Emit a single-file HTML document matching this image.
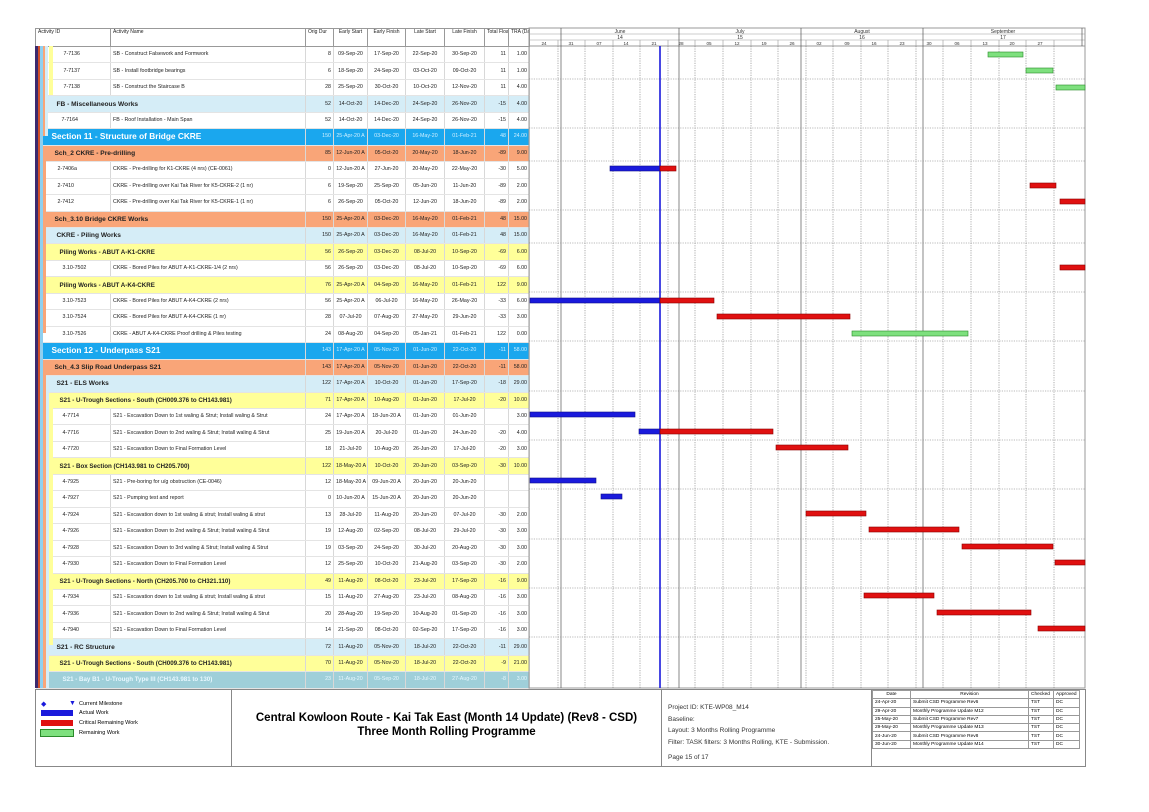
<!DOCTYPE html>
<html><head><meta charset="utf-8"><style>
body{margin:0;background:#fff;width:1149px;height:812px;position:relative;overflow:hidden;font-family:"Liberation Sans",sans-serif}
#tbl{position:absolute;left:35px;top:28px;width:494px;border-collapse:collapse;table-layout:fixed}
#tbl td{border-right:1px solid #d8d8d8;border-bottom:1px solid #e4e4e4;font-size:5.3px;white-space:nowrap;overflow:hidden;padding:0 2px;height:15.46px;line-height:15px;color:#222}
#tbl tr.h td{height:17px;font-size:5px;vertical-align:top;line-height:7px;border:1px solid #999;background:#fff}
#tbl td.n{text-align:right}#tbl td.c{text-align:center}
tr.s td{background:#1aa7ee;color:#cfefff!important}tr.s td.g{color:#fff!important;font-weight:bold;font-size:8.3px!important}
tr.o td{background:#f9a578}tr.o td.g{font-weight:bold;font-size:6.6px!important;color:#000}
tr.l td{background:#d5edf7}tr.l td.g{font-weight:bold;font-size:6.6px!important;color:#000}
tr.y td{background:#ffff99}tr.y td.g{font-weight:bold;font-size:6.2px!important;color:#000}
tr.t td{background:#9fcfd9;color:#e8f8ff!important}tr.t td.g{font-weight:bold;font-size:6.2px!important}
.strip{position:absolute;top:46px;height:642px}
#foot{position:absolute;left:35px;top:689px;width:1049px;height:76px;border:1px solid #888;font-size:5.5px}
#foot div{position:absolute}
.rv{position:absolute;left:836px;top:0;border-collapse:collapse;font-size:4.8px}
.rv td{border:1px solid #999;height:7.3px;padding:0 2px;line-height:7px}
</style></head><body>
<table id="tbl">
<colgroup><col style="width:75px"><col style="width:195px"><col style="width:28px"><col style="width:34px"><col style="width:38px"><col style="width:39px"><col style="width:40px"><col style="width:24px"><col style="width:21px"></colgroup>
<tr class="h"><td>Activity ID</td><td>Activity Name</td><td>Orig Dur</td><td class="c">Early Start</td><td class="c">Early Finish</td><td class="c">Late Start</td><td class="c">Late Finish</td><td class="c">Total Float</td><td class="c">TRA (Day)</td></tr>
<tr><td style="padding-left:28px">7-7136</td><td>SB - Construct Falsework and Formwork</td><td class="n">8</td><td class="c">09-Sep-20</td><td class="c">17-Sep-20</td><td class="c">22-Sep-20</td><td class="c">30-Sep-20</td><td class="n">11</td><td class="n">1.00</td></tr>
<tr><td style="padding-left:28px">7-7137</td><td>SB - Install footbridge bearings</td><td class="n">6</td><td class="c">18-Sep-20</td><td class="c">24-Sep-20</td><td class="c">03-Oct-20</td><td class="c">09-Oct-20</td><td class="n">11</td><td class="n">1.00</td></tr>
<tr><td style="padding-left:28px">7-7138</td><td>SB - Construct the Staircase B</td><td class="n">28</td><td class="c">25-Sep-20</td><td class="c">30-Oct-20</td><td class="c">10-Oct-20</td><td class="c">12-Nov-20</td><td class="n">11</td><td class="n">4.00</td></tr>
<tr class="l"><td class="g" colspan="2" style="padding-left:21px">FB - Miscellaneous Works</td><td class="n">52</td><td class="c">14-Oct-20</td><td class="c">14-Dec-20</td><td class="c">24-Sep-20</td><td class="c">26-Nov-20</td><td class="n">-15</td><td class="n">4.00</td></tr>
<tr><td style="padding-left:26px">7-7164</td><td>FB - Roof Installation - Main Span</td><td class="n">52</td><td class="c">14-Oct-20</td><td class="c">14-Dec-20</td><td class="c">24-Sep-20</td><td class="c">26-Nov-20</td><td class="n">-15</td><td class="n">4.00</td></tr>
<tr class="s"><td class="g" colspan="2" style="padding-left:16px">Section 11 - Structure of Bridge CKRE</td><td class="n">150</td><td class="c">25-Apr-20 A</td><td class="c">03-Dec-20</td><td class="c">16-May-20</td><td class="c">01-Feb-21</td><td class="n">48</td><td class="n">24.00</td></tr>
<tr class="o"><td class="g" colspan="2" style="padding-left:19px">Sch_2 CKRE - Pre-drilling</td><td class="n">85</td><td class="c">12-Jun-20 A</td><td class="c">05-Oct-20</td><td class="c">20-May-20</td><td class="c">18-Jun-20</td><td class="n">-89</td><td class="n">9.00</td></tr>
<tr><td style="padding-left:22px">2-7406a</td><td>CKRE - Pre-drilling for K1-CKRE (4 nrs) (CE-0061)</td><td class="n">0</td><td class="c">12-Jun-20 A</td><td class="c">27-Jun-20</td><td class="c">20-May-20</td><td class="c">22-May-20</td><td class="n">-30</td><td class="n">5.00</td></tr>
<tr><td style="padding-left:22px">2-7410</td><td>CKRE - Pre-drilling over Kai Tak River for K5-CKRE-2 (1 nr)</td><td class="n">6</td><td class="c">19-Sep-20</td><td class="c">25-Sep-20</td><td class="c">05-Jun-20</td><td class="c">11-Jun-20</td><td class="n">-89</td><td class="n">2.00</td></tr>
<tr><td style="padding-left:22px">2-7412</td><td>CKRE - Pre-drilling over Kai Tak River for K5-CKRE-1 (1 nr)</td><td class="n">6</td><td class="c">26-Sep-20</td><td class="c">05-Oct-20</td><td class="c">12-Jun-20</td><td class="c">18-Jun-20</td><td class="n">-89</td><td class="n">2.00</td></tr>
<tr class="o"><td class="g" colspan="2" style="padding-left:19px">Sch_3.10 Bridge CKRE Works</td><td class="n">150</td><td class="c">25-Apr-20 A</td><td class="c">03-Dec-20</td><td class="c">16-May-20</td><td class="c">01-Feb-21</td><td class="n">48</td><td class="n">15.00</td></tr>
<tr class="l"><td class="g" colspan="2" style="padding-left:21px">CKRE - Piling Works</td><td class="n">150</td><td class="c">25-Apr-20 A</td><td class="c">03-Dec-20</td><td class="c">16-May-20</td><td class="c">01-Feb-21</td><td class="n">48</td><td class="n">15.00</td></tr>
<tr class="y"><td class="g" colspan="2" style="padding-left:24px">Piling Works - ABUT A-K1-CKRE</td><td class="n">56</td><td class="c">26-Sep-20</td><td class="c">03-Dec-20</td><td class="c">08-Jul-20</td><td class="c">10-Sep-20</td><td class="n">-69</td><td class="n">6.00</td></tr>
<tr><td style="padding-left:27px">3.10-7502</td><td>CKRE - Bored Piles for ABUT A-K1-CKRE-1/4 (2 nrs)</td><td class="n">56</td><td class="c">26-Sep-20</td><td class="c">03-Dec-20</td><td class="c">08-Jul-20</td><td class="c">10-Sep-20</td><td class="n">-69</td><td class="n">6.00</td></tr>
<tr class="y"><td class="g" colspan="2" style="padding-left:24px">Piling Works - ABUT A-K4-CKRE</td><td class="n">76</td><td class="c">25-Apr-20 A</td><td class="c">04-Sep-20</td><td class="c">16-May-20</td><td class="c">01-Feb-21</td><td class="n">122</td><td class="n">9.00</td></tr>
<tr><td style="padding-left:27px">3.10-7523</td><td>CKRE - Bored Piles for ABUT A-K4-CKRE (2 nrs)</td><td class="n">56</td><td class="c">25-Apr-20 A</td><td class="c">06-Jul-20</td><td class="c">16-May-20</td><td class="c">26-May-20</td><td class="n">-33</td><td class="n">6.00</td></tr>
<tr><td style="padding-left:27px">3.10-7524</td><td>CKRE - Bored Piles for ABUT A-K4-CKRE (1 nr)</td><td class="n">28</td><td class="c">07-Jul-20</td><td class="c">07-Aug-20</td><td class="c">27-May-20</td><td class="c">29-Jun-20</td><td class="n">-33</td><td class="n">3.00</td></tr>
<tr><td style="padding-left:27px">3.10-7526</td><td>CKRE - ABUT A-K4-CKRE Proof drilling &amp; Piles testing</td><td class="n">24</td><td class="c">08-Aug-20</td><td class="c">04-Sep-20</td><td class="c">05-Jan-21</td><td class="c">01-Feb-21</td><td class="n">122</td><td class="n">0.00</td></tr>
<tr class="s"><td class="g" colspan="2" style="padding-left:16px">Section 12 - Underpass S21</td><td class="n">143</td><td class="c">17-Apr-20 A</td><td class="c">05-Nov-20</td><td class="c">01-Jun-20</td><td class="c">22-Oct-20</td><td class="n">-11</td><td class="n">58.00</td></tr>
<tr class="o"><td class="g" colspan="2" style="padding-left:19px">Sch_4.3 Slip Road Underpass S21</td><td class="n">143</td><td class="c">17-Apr-20 A</td><td class="c">05-Nov-20</td><td class="c">01-Jun-20</td><td class="c">22-Oct-20</td><td class="n">-11</td><td class="n">58.00</td></tr>
<tr class="l"><td class="g" colspan="2" style="padding-left:21px">S21 - ELS Works</td><td class="n">122</td><td class="c">17-Apr-20 A</td><td class="c">10-Oct-20</td><td class="c">01-Jun-20</td><td class="c">17-Sep-20</td><td class="n">-18</td><td class="n">29.00</td></tr>
<tr class="y"><td class="g" colspan="2" style="padding-left:24px">S21 - U-Trough Sections - South (CH009.376 to CH143.981)</td><td class="n">71</td><td class="c">17-Apr-20 A</td><td class="c">10-Aug-20</td><td class="c">01-Jun-20</td><td class="c">17-Jul-20</td><td class="n">-20</td><td class="n">10.00</td></tr>
<tr><td style="padding-left:27px">4-7714</td><td>S21 - Excavation Down to 1st waling &amp; Strut; Install waling &amp; Strut</td><td class="n">24</td><td class="c">17-Apr-20 A</td><td class="c">18-Jun-20 A</td><td class="c">01-Jun-20</td><td class="c">01-Jun-20</td><td class="n"></td><td class="n">3.00</td></tr>
<tr><td style="padding-left:27px">4-7716</td><td>S21 - Excavation Down to 2nd waling &amp; Strut; Install waling &amp; Strut</td><td class="n">25</td><td class="c">19-Jun-20 A</td><td class="c">20-Jul-20</td><td class="c">01-Jun-20</td><td class="c">24-Jun-20</td><td class="n">-20</td><td class="n">4.00</td></tr>
<tr><td style="padding-left:27px">4-7720</td><td>S21 - Excavation Down to Final Formation Level</td><td class="n">18</td><td class="c">21-Jul-20</td><td class="c">10-Aug-20</td><td class="c">26-Jun-20</td><td class="c">17-Jul-20</td><td class="n">-20</td><td class="n">3.00</td></tr>
<tr class="y"><td class="g" colspan="2" style="padding-left:24px">S21 - Box Section (CH143.981 to CH205.700)</td><td class="n">122</td><td class="c">18-May-20 A</td><td class="c">10-Oct-20</td><td class="c">20-Jun-20</td><td class="c">03-Sep-20</td><td class="n">-30</td><td class="n">10.00</td></tr>
<tr><td style="padding-left:27px">4-7925</td><td>S21 - Pre-boring for u/g obstruction (CE-0046)</td><td class="n">12</td><td class="c">18-May-20 A</td><td class="c">09-Jun-20 A</td><td class="c">20-Jun-20</td><td class="c">20-Jun-20</td><td class="n"></td><td class="n"></td></tr>
<tr><td style="padding-left:27px">4-7927</td><td>S21 - Pumping test and report</td><td class="n">0</td><td class="c">10-Jun-20 A</td><td class="c">15-Jun-20 A</td><td class="c">20-Jun-20</td><td class="c">20-Jun-20</td><td class="n"></td><td class="n"></td></tr>
<tr><td style="padding-left:27px">4-7924</td><td>S21 - Excavation down to 1st waling &amp; strut; Install waling &amp; strut</td><td class="n">13</td><td class="c">28-Jul-20</td><td class="c">11-Aug-20</td><td class="c">20-Jun-20</td><td class="c">07-Jul-20</td><td class="n">-30</td><td class="n">2.00</td></tr>
<tr><td style="padding-left:27px">4-7926</td><td>S21 - Excavation Down to 2nd waling &amp; Strut; Install waling &amp; Strut</td><td class="n">19</td><td class="c">12-Aug-20</td><td class="c">02-Sep-20</td><td class="c">08-Jul-20</td><td class="c">29-Jul-20</td><td class="n">-30</td><td class="n">3.00</td></tr>
<tr><td style="padding-left:27px">4-7928</td><td>S21 - Excavation Down to 3rd waling &amp; Strut; Install waling &amp; Strut</td><td class="n">19</td><td class="c">03-Sep-20</td><td class="c">24-Sep-20</td><td class="c">30-Jul-20</td><td class="c">20-Aug-20</td><td class="n">-30</td><td class="n">3.00</td></tr>
<tr><td style="padding-left:27px">4-7930</td><td>S21 - Excavation Down to Final Formation Level</td><td class="n">12</td><td class="c">25-Sep-20</td><td class="c">10-Oct-20</td><td class="c">21-Aug-20</td><td class="c">03-Sep-20</td><td class="n">-30</td><td class="n">2.00</td></tr>
<tr class="y"><td class="g" colspan="2" style="padding-left:24px">S21 - U-Trough Sections - North (CH205.700 to CH321.110)</td><td class="n">49</td><td class="c">11-Aug-20</td><td class="c">08-Oct-20</td><td class="c">23-Jul-20</td><td class="c">17-Sep-20</td><td class="n">-16</td><td class="n">9.00</td></tr>
<tr><td style="padding-left:27px">4-7934</td><td>S21 - Excavation down to 1st waling &amp; strut; Install waling &amp; strut</td><td class="n">15</td><td class="c">11-Aug-20</td><td class="c">27-Aug-20</td><td class="c">23-Jul-20</td><td class="c">08-Aug-20</td><td class="n">-16</td><td class="n">3.00</td></tr>
<tr><td style="padding-left:27px">4-7936</td><td>S21 - Excavation Down to 2nd waling &amp; Strut; Install waling &amp; Strut</td><td class="n">20</td><td class="c">28-Aug-20</td><td class="c">19-Sep-20</td><td class="c">10-Aug-20</td><td class="c">01-Sep-20</td><td class="n">-16</td><td class="n">3.00</td></tr>
<tr><td style="padding-left:27px">4-7940</td><td>S21 - Excavation Down to Final Formation Level</td><td class="n">14</td><td class="c">21-Sep-20</td><td class="c">08-Oct-20</td><td class="c">02-Sep-20</td><td class="c">17-Sep-20</td><td class="n">-16</td><td class="n">3.00</td></tr>
<tr class="l"><td class="g" colspan="2" style="padding-left:21px">S21 - RC Structure</td><td class="n">72</td><td class="c">11-Aug-20</td><td class="c">05-Nov-20</td><td class="c">18-Jul-20</td><td class="c">22-Oct-20</td><td class="n">-11</td><td class="n">29.00</td></tr>
<tr class="y"><td class="g" colspan="2" style="padding-left:24px">S21 - U-Trough Sections - South (CH009.376 to CH143.981)</td><td class="n">70</td><td class="c">11-Aug-20</td><td class="c">05-Nov-20</td><td class="c">18-Jul-20</td><td class="c">22-Oct-20</td><td class="n">-9</td><td class="n">21.00</td></tr>
<tr class="t"><td class="g" colspan="2" style="padding-left:27px">S21 - Bay B1 - U-Trough Type III (CH143.981 to 130)</td><td class="n">23</td><td class="c">11-Aug-20</td><td class="c">05-Sep-20</td><td class="c">18-Jul-20</td><td class="c">27-Aug-20</td><td class="n">-8</td><td class="n">3.00</td></tr>
</table>
<div class="strip" style="left:35px;width:3px;background:#3b2a6e"></div>
<div class="strip" style="left:38px;width:2px;background:#d0502a"></div>
<div class="strip" style="left:40px;width:3px;background:#8fd0f0"></div>
<div class="strip" style="left:43px;width:2px;background:#f9a578;top:46px;height:90px"></div>
<div class="strip" style="left:45px;width:3px;background:#d5edf7;top:46px;height:90px"></div>
<div class="strip" style="left:43px;width:3px;background:#f9a578;top:153px;height:180px"></div>
<div class="strip" style="left:43px;width:3px;background:#f9a578;top:366px;height:322px"></div>
<div class="strip" style="left:46px;width:3px;background:#d5edf7;top:383px;height:305px"></div>
<div class="strip" style="left:49px;width:4px;background:#ffff99;top:46px;height:49px"></div>
<div class="strip" style="left:49px;width:4px;background:#ffff99;top:399px;height:246px"></div>

<svg style="position:absolute;left:0;top:0" width="1149" height="812">
<g font-family="Liberation Sans" font-size="5" fill="#333" text-anchor="middle">
<rect x="529" y="28" width="556" height="660" fill="none" stroke="#999"/>
<line x1="529" y1="34" x2="1085" y2="34" stroke="#999" stroke-width=".6"/>
<line x1="529" y1="40" x2="1085" y2="40" stroke="#999" stroke-width=".6"/>
<line x1="529" y1="46" x2="1085" y2="46" stroke="#999"/>
<text x="620" y="33">June</text><text x="620" y="39">14</text>
<text x="740" y="33">July</text><text x="740" y="39">15</text>
<text x="862" y="33">August</text><text x="862" y="39">16</text>
<text x="1003" y="33">September</text><text x="1003" y="39">17</text>
<g stroke="#555" stroke-width=".7"><line x1="561" y1="28" x2="561" y2="688"/><line x1="679" y1="28" x2="679" y2="688"/><line x1="801" y1="28" x2="801" y2="688"/><line x1="923" y1="28" x2="923" y2="688"/><line x1="1082" y1="28" x2="1082" y2="46"/></g>
<g stroke="#777" stroke-width=".6" stroke-dasharray="1.2,1.2">
<line x1="558" y1="46" x2="558" y2="688"/><line x1="585" y1="46" x2="585" y2="688"/><line x1="613" y1="46" x2="613" y2="688"/><line x1="640" y1="46" x2="640" y2="688"/><line x1="668" y1="46" x2="668" y2="688"/><line x1="695" y1="46" x2="695" y2="688"/><line x1="723" y1="46" x2="723" y2="688"/><line x1="751" y1="46" x2="751" y2="688"/><line x1="778" y1="46" x2="778" y2="688"/><line x1="806" y1="46" x2="806" y2="688"/><line x1="833" y1="46" x2="833" y2="688"/><line x1="861" y1="46" x2="861" y2="688"/><line x1="888" y1="46" x2="888" y2="688"/><line x1="916" y1="46" x2="916" y2="688"/><line x1="943" y1="46" x2="943" y2="688"/><line x1="971" y1="46" x2="971" y2="688"/><line x1="999" y1="46" x2="999" y2="688"/><line x1="1026" y1="46" x2="1026" y2="688"/><line x1="1054" y1="46" x2="1054" y2="688"/>
<line x1="529" y1="79" x2="1085" y2="79"/><line x1="529" y1="128" x2="1085" y2="128"/><line x1="529" y1="161" x2="1085" y2="161"/><line x1="529" y1="210" x2="1085" y2="210"/><line x1="529" y1="243" x2="1085" y2="243"/><line x1="529" y1="292" x2="1085" y2="292"/><line x1="529" y1="341" x2="1085" y2="341"/><line x1="529" y1="391" x2="1085" y2="391"/><line x1="529" y1="440" x2="1085" y2="440"/><line x1="529" y1="489" x2="1085" y2="489"/><line x1="529" y1="539" x2="1085" y2="539"/><line x1="529" y1="588" x2="1085" y2="588"/><line x1="529" y1="637" x2="1085" y2="637"/>
</g>
<g stroke="#999" stroke-width=".6"><line x1="558" y1="40" x2="558" y2="46"/><line x1="585" y1="40" x2="585" y2="46"/><line x1="613" y1="40" x2="613" y2="46"/><line x1="640" y1="40" x2="640" y2="46"/><line x1="668" y1="40" x2="668" y2="46"/><line x1="695" y1="40" x2="695" y2="46"/><line x1="723" y1="40" x2="723" y2="46"/><line x1="751" y1="40" x2="751" y2="46"/><line x1="778" y1="40" x2="778" y2="46"/><line x1="806" y1="40" x2="806" y2="46"/><line x1="833" y1="40" x2="833" y2="46"/><line x1="861" y1="40" x2="861" y2="46"/><line x1="888" y1="40" x2="888" y2="46"/><line x1="916" y1="40" x2="916" y2="46"/><line x1="943" y1="40" x2="943" y2="46"/><line x1="971" y1="40" x2="971" y2="46"/><line x1="999" y1="40" x2="999" y2="46"/><line x1="1026" y1="40" x2="1026" y2="46"/><line x1="1054" y1="40" x2="1054" y2="46"/></g>
<g font-size="4.6"><text x="544" y="45">24</text><text x="571" y="45">31</text><text x="599" y="45">07</text><text x="626" y="45">14</text><text x="654" y="45">21</text><text x="681" y="45">28</text><text x="709" y="45">05</text><text x="737" y="45">12</text><text x="764" y="45">19</text><text x="792" y="45">26</text><text x="819" y="45">02</text><text x="847" y="45">09</text><text x="874" y="45">16</text><text x="902" y="45">23</text><text x="929" y="45">30</text><text x="957" y="45">06</text><text x="985" y="45">13</text><text x="1012" y="45">20</text><text x="1040" y="45">27</text></g>
<line x1="660" y1="46" x2="660" y2="688" stroke="#1a1adc" stroke-width="1.6"/>
<g stroke-width=".6">
<g fill="#7ee07e" stroke="#2a8a2a"><rect x="988" y="52" width="35" height="5"/><rect x="1026" y="68" width="27" height="5"/><rect x="1056" y="85" width="29" height="5"/><rect x="852" y="331" width="116" height="5"/></g>
<g fill="#1a1adc" stroke="#10108a"><rect x="610" y="166" width="50" height="5"/><rect x="530" y="298" width="130" height="5"/><rect x="530" y="412" width="105" height="5"/><rect x="639" y="429" width="21" height="5"/><rect x="530" y="478" width="66" height="5"/><rect x="601" y="494" width="21" height="5"/></g>
<g fill="#e01010" stroke="#8a0000"><rect x="660" y="166" width="16" height="5"/><rect x="1030" y="183" width="26" height="5"/><rect x="1060" y="199" width="25" height="5"/><rect x="1060" y="265" width="25" height="5"/><rect x="660" y="298" width="54" height="5"/><rect x="717" y="314" width="133" height="5"/><rect x="660" y="429" width="113" height="5"/><rect x="776" y="445" width="72" height="5"/><rect x="806" y="511" width="60" height="5"/><rect x="869" y="527" width="90" height="5"/><rect x="962" y="544" width="91" height="5"/><rect x="1055" y="560" width="30" height="5"/><rect x="864" y="593" width="70" height="5"/><rect x="937" y="610" width="94" height="5"/><rect x="1038" y="626" width="47" height="5"/></g>
</g>
</g>
</svg>

<div id="foot">
<div style="left:195px;top:0;width:1px;height:76px;background:#888"></div>
<div style="left:625px;top:0;width:1px;height:76px;background:#888"></div>
<div style="left:835px;top:0;width:1px;height:76px;background:#888"></div>
<div style="left:5px;top:10px;color:#1a1adc;font-size:7px">◆</div><div style="left:33px;top:10px;color:#1a1adc;font-size:7px">▼</div><div style="left:43px;top:11px">Current Milestone</div>
<div style="left:5px;top:20px;width:32px;height:6px;background:#1a1adc"></div><div style="left:43px;top:20px">Actual Work</div>
<div style="left:5px;top:30px;width:32px;height:6px;background:#e01010"></div><div style="left:43px;top:30px">Critical Remaining Work</div>
<div style="left:5px;top:40px;width:32px;height:6px;background:#7ee07e;outline:1px solid #2a8a2a"></div><div style="left:43px;top:40px">Remaining Work</div>
<div style="left:196px;top:21px;width:429px;text-align:center;font-size:11.5px;font-weight:bold;line-height:14px">Central Kowloon Route - Kai Tak East (Month 14 Update) (Rev8 - CSD)<br>Three Month Rolling Programme</div>
<div style="left:632px;top:12px;font-size:6.5px;line-height:11.5px;color:#333">Project ID: KTE-WP08_M14<br>Baseline:<br>Layout: 3 Months Rolling Programme<br>Filter: TASK filters: 3 Months Rolling, KTE - Submission.</div>
<div style="left:632px;top:64px;font-size:6.5px;color:#333">Page 15 of 17</div>
<table class="rv">
<tr><td style="width:33px;text-align:center">Date</td><td style="width:113px;text-align:center">Revision</td><td style="width:20px">Checked</td><td style="width:21px">Approved</td></tr>
<tr><td>24-Apr-20</td><td>Submit CSD Programme Rev6</td><td>TST</td><td>DC</td></tr>
<tr><td>29-Apr-20</td><td>Monthly Programme Update M12</td><td>TST</td><td>DC</td></tr>
<tr><td>25-May-20</td><td>Submit CSD Programme Rev7</td><td>TST</td><td>DC</td></tr>
<tr><td>29-May-20</td><td>Monthly Programme Update M13</td><td>TST</td><td>DC</td></tr>
<tr><td>24-Jun-20</td><td>Submit CSD Programme Rev8</td><td>TST</td><td>DC</td></tr>
<tr><td>30-Jun-20</td><td>Monthly Programme Update M14</td><td>TST</td><td>DC</td></tr>
</table>
</div>
</body></html>
